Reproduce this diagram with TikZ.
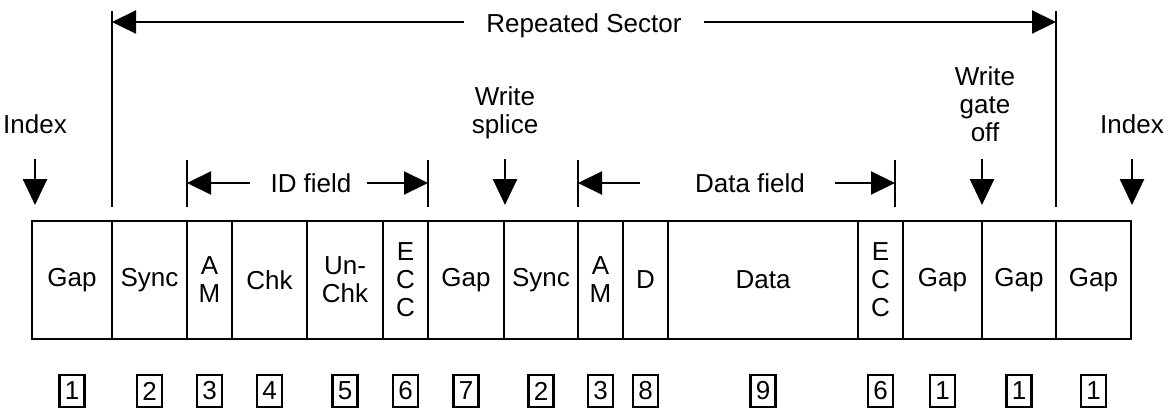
\documentclass[tikz,border=0pt]{standalone}
\usepackage{fontspec}
\setmainfont{Liberation Sans}
\usetikzlibrary{arrows.meta}
\tikzset{
  txt/.style={font=\fontsize{26}{28}\selectfont, inner sep=0pt, align=center},
  cell/.style={txt, draw, line width=2.8pt, minimum height=118pt},
  numbox/.style={txt, draw, line width=2.4pt, minimum width=25pt, minimum height=32pt},
  bar/.style={line width=2.8pt},
  span/.style={line width=2.2pt, -{Triangle[length=24pt,width=23pt]}},
  drop/.style={line width=2.6pt, -{Triangle[length=26pt,width=24pt]}},
}
\begin{document}
\begin{tikzpicture}[x=1pt,y=-1pt]
\useasboundingbox (0,0) rectangle (1168,410);

% sector layout: field cells and their part numbers
\foreach \l/\r/\t/\n [count=\i] in {
  32/112/Gap/1, 112/187/Sync/2, 187/232/{A\\M}/3, 232/307/Chk/4,
  307/383/{Un-\\Chk}/5, 383/428/{E\\C\\C}/6, 428/504/Gap/7,
  504/578/Sync/2, 578/623/{A\\M}/3, 623/668/D/8, 668/858/Data/9,
  858/903/{E\\C\\C}/6, 903/982/Gap/1, 982/1056/Gap/1, 1056/1131/Gap/1}{
  \node[cell, minimum width=\r pt-\l pt] (c\i) at ({(\l+\r)/2},280) {\t};
  \node[numbox] (n\i) at ({(\l+\r)/2},391) {\n};
}

% repeated sector span
\coordinate (rsL) at (112,22);
\coordinate (rsR) at (1056,22);
\coordinate (rsLb) at (112,11);
\coordinate (rsRb) at (1056,11);
\coordinate (rsLe) at (112,207);
\coordinate (rsRe) at (1056,207);
\node[txt, anchor=base, inner xsep=22pt] (rs) at (584,32) {Repeated Sector};
\draw[bar] (rsLb) -- (rsLe);
\draw[bar] (rsRb) -- (rsRe);
\draw[span] (rs.west |- rsL) -- (rsL);
\draw[span] (rs.east |- rsR) -- (rsR);

% ID field span
\coordinate (idL) at (187,183);
\coordinate (idR) at (428,183);
\node[txt, anchor=base] (id) at (311,192) {ID field};
\draw[bar] (187,160) coordinate (idLt) -- (187,207) coordinate (idLb);
\draw[bar] (428,160) coordinate (idRt) -- (428,207) coordinate (idRb);
\coordinate (idLs) at (250,183);
\coordinate (idRs) at (367,183);
\draw[span] (idLs) -- (idL);
\draw[span] (idRs) -- (idR);

% data field span
\coordinate (dfL) at (578,183);
\coordinate (dfR) at (895,183);
\node[txt, anchor=base] (df) at (750,192) {Data field};
\draw[bar] (578,160) coordinate (dfLt) -- (578,207) coordinate (dfLb);
\draw[bar] (895,160) coordinate (dfRt) -- (895,207) coordinate (dfRb);
\coordinate (dfLs) at (640,183);
\coordinate (dfRs) at (835,183);
\draw[span] (dfLs) -- (dfL);
\draw[span] (dfRs) -- (dfR);

% event markers (base anchor sits on the last text line)
\node[txt, anchor=base] (ixL) at (35,133) {Index};
\node[txt, anchor=base] (ixR) at (1132,133) {Index};
\node[txt, anchor=base] (ws) at (505,133) {Write\\splice};
\node[txt, anchor=base] (wg) at (985,141) {Write\\gate\\off};
\coordinate (ixLt) at (35,159);  \coordinate (ixLh) at (35,205);
\coordinate (wst)  at (505,159); \coordinate (wsh)  at (505,205);
\coordinate (wgt)  at (982,159); \coordinate (wgh)  at (982,205);
\coordinate (ixRt) at (1132,159);\coordinate (ixRh) at (1132,205);
\draw[drop] (ixLt) -- (ixLh);
\draw[drop] (wst) -- (wsh);
\draw[drop] (wgt) -- (wgh);
\draw[drop] (ixRt) -- (ixRh);
\end{tikzpicture}
\end{document}
